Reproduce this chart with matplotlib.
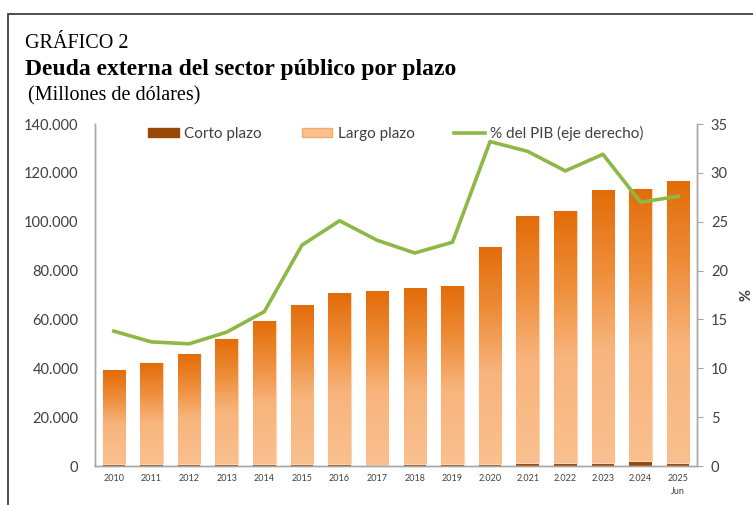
import numpy as np
import matplotlib.pyplot as plt
from matplotlib.colors import LinearSegmentedColormap
from matplotlib.patches import Rectangle, Patch
from matplotlib.lines import Line2D
from matplotlib.ticker import FuncFormatter

years = ["2010", "2011", "2012", "2013", "2014", "2015", "2016", "2017", "2018",
         "2019", "2.020", "2.021", "2.022", "2.023", "2.024", "2025\nJun"]
corto_plazo = [1000, 800, 800, 700, 800, 800, 800, 600, 900, 900,
               1000, 1400, 1400, 1300, 2200, 1400]
largo_plazo = [38300, 41400, 45000, 51300, 58700, 65100, 70000, 71000, 72000, 72800,
               88600, 100900, 103000, 111700, 111200, 115100]
pct_pib = [13.8, 12.7, 12.5, 13.7, 15.8, 22.6, 25.1, 23.1, 21.8, 22.9,
           33.2, 32.2, 30.2, 31.9, 27.0, 27.6]

SANS = ["Lato", "DejaVu Sans"]
SERIF = ["Liberation Serif", "DejaVu Serif"]

fig = plt.figure(figsize=(7.53, 5.05), dpi=100)
ax = fig.add_axes([95 / 753, 39 / 505, 602 / 753, 342 / 505])
ax2 = ax.twinx()

x = np.arange(len(years))
width = 0.6
ax.bar(x, corto_plazo, width, color="#984807", zorder=2)
bars = ax.bar(x, largo_plazo, width, bottom=corto_plazo, color="#FAC090",
              edgecolor="#FBD4B4", linewidth=0.8, zorder=2)

# vertical gradient inside each long-term bar (dark on top, light below)
cmap = LinearSegmentedColormap.from_list(
    "grad", [(0.0, "#FAC08F"), (0.42, "#F8B47C"), (0.7, "#EE8E3A"), (1.0, "#E36C09")])
grad = np.linspace(0, 1, 256).reshape(-1, 1)
for bar in bars:
    x0, y0 = bar.get_x(), bar.get_y()
    im = ax.imshow(grad, cmap=cmap, origin="lower", aspect="auto", zorder=2.5,
                   extent=(x0, x0 + bar.get_width(), y0, y0 + bar.get_height()))
    im.set_clip_path(bar)

ax.set_xlim(-0.5, len(years) - 0.5)
ax.set_ylim(0, 140000)
ax.set_yticks(np.arange(0, 140001, 20000))
ax.yaxis.set_major_formatter(FuncFormatter(lambda v, _: f"{v:,.0f}".replace(",", ".")))
ax.set_xticks(x)
ax.set_xticklabels(years, fontsize=6.5, family=SANS, color="#404040", linespacing=1.5)
ax.tick_params(axis="x", length=0, pad=6)
ax.tick_params(axis="y", length=0, pad=12, labelsize=10.5, labelcolor="#404040")
for lab in ax.get_yticklabels():
    lab.set_family(SANS)

ax2.plot(x, pct_pib, color="#8DB846", linewidth=2.6, zorder=3)
ax2.set_ylim(0, 35)
ax2.set_yticks(np.arange(0, 36, 5))
ax2.tick_params(axis="y", length=4, color="#A6A6A6", pad=6, labelsize=10.5,
                labelcolor="#404040")
for lab in ax2.get_yticklabels():
    lab.set_family(SANS)
ax2.set_ylabel("%", family=SANS, fontsize=10.5, fontweight="bold", color="#404040",
               labelpad=8)

for a in (ax, ax2):
    a.spines["top"].set_visible(False)
    for s in ("left", "right", "bottom"):
        a.spines[s].set_color("#A6A6A6")
        a.spines[s].set_linewidth(1.0)

handles = [Patch(color="#984807"), Patch(color="#FAC090", ec="#F5A96A"),
           Line2D([], [], color="#8DB846", linewidth=2.6)]
labels = ["Corto plazo", "Largo plazo", "% del PIB (eje derecho)"]
ax2.legend(handles, labels, ncol=3, loc="upper center", bbox_to_anchor=(0.5, 1.035),
           frameon=False, prop={"family": SANS, "size": 11}, labelcolor="#404040",
           handlelength=2.0, handleheight=0.5, columnspacing=2.6, handletextpad=0.35)

fig.text(25 / 753, 1 - 43 / 505, "GRÁFICO 2", family=SERIF, fontsize=14.5, va="center")
fig.text(25 / 753, 1 - 70 / 505, "Deuda externa del sector público por plazo",
         family=SERIF, fontsize=17, fontweight="bold", va="center")
fig.text(28 / 753, 1 - 96 / 505, "(Millones de dólares)", family=SERIF, fontsize=14.5,
         va="center")

# outer frame (right and bottom edges fall outside the image)
fig.patches.append(Rectangle((8 / 753, -0.1), 1.2, 1 - 14 / 505 + 0.1,
                             transform=fig.transFigure, fill=False,
                             edgecolor="#303030", linewidth=1.2))

fig.savefig("out.png", dpi=100)
